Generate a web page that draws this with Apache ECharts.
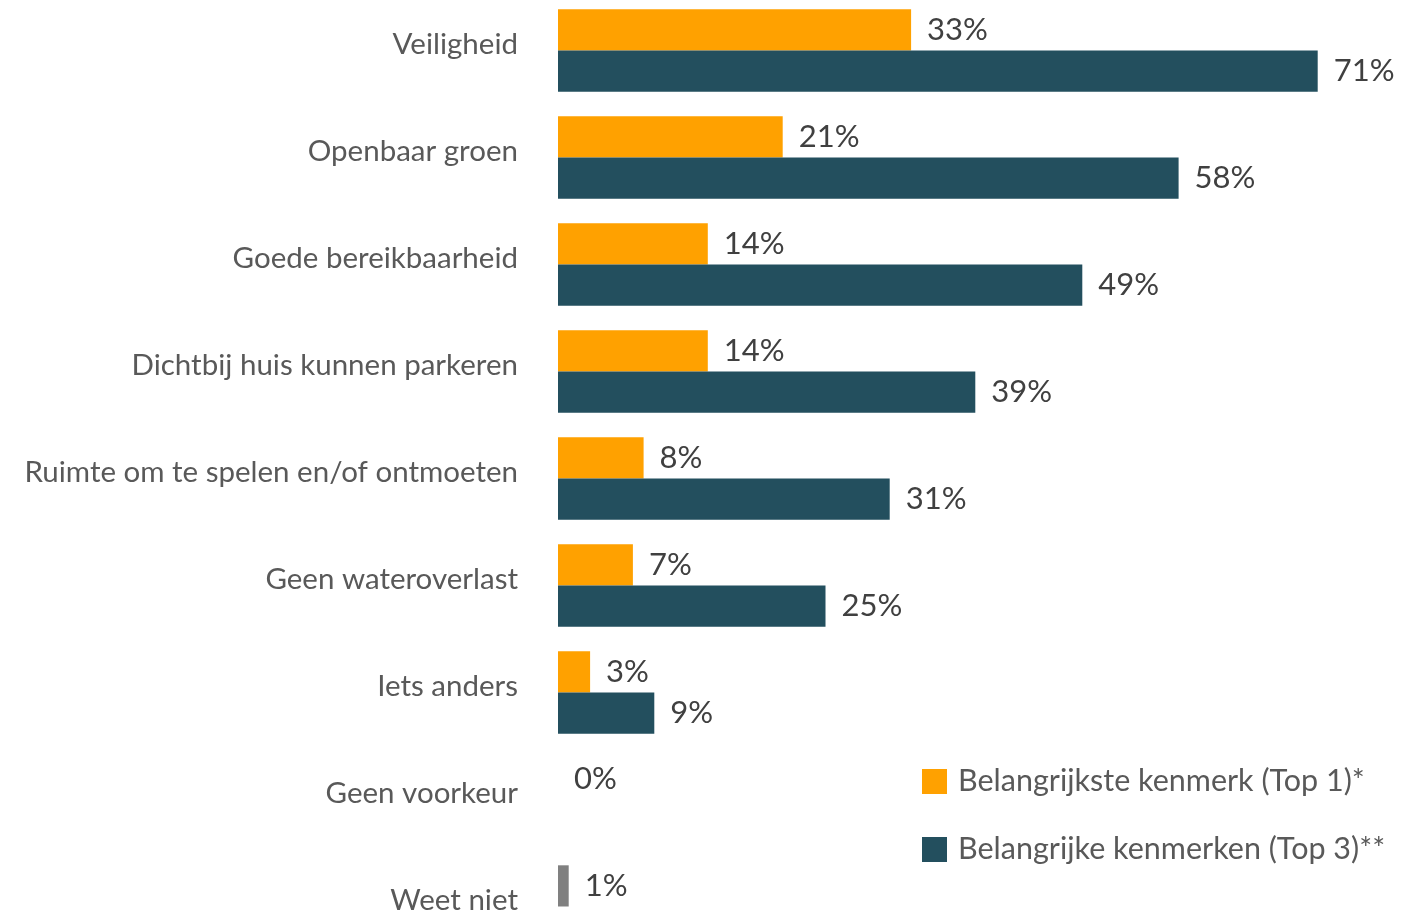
<!DOCTYPE html>
<html>
<head>
<meta charset="utf-8">
<script src="https://cdn.jsdelivr.net/npm/echarts@6/dist/echarts.min.js"></script>
<style>
  html, body { margin: 0; padding: 0; background: #fff; }
  #chart { width: 1421px; height: 915px; }
</style>
</head>
<body>
<div id="chart"></div>
<script>
// categories, top to bottom
const categories = [
  'Veiligheid',
  'Openbaar groen',
  'Goede bereikbaarheid',
  'Dichtbij huis kunnen parkeren',
  'Ruimte om te spelen en/of ontmoeten',
  'Geen wateroverlast',
  'Iets anders',
  'Geen voorkeur',
  'Weet niet'
];
const top1Values = [33, 21, 14, 14, 8, 7, 3, 0, 1];
const top3Values = [71, 58, 49, 39, 31, 25, 9, null, null];
// 'Weet niet' is drawn in grey
const greyCategory = 'Weet niet';

const FONT = 'Lato';
const ORANGE = '#FFA100';
const TEAL = '#234F5E';
const GREY = '#808080';

const chart = echarts.init(document.getElementById('chart'));

const valueLabel = {
  show: true,
  position: 'right',
  distance: 16,
  formatter: p => p.value + '%',
  fontFamily: FONT,
  fontSize: 31,
  color: '#404040'
};

chart.setOption({
  animation: false,
  grid: {
    left: 558, top: -3, width: 856, height: 963,
    containLabel: false,
    outerBoundsMode: 'none'
  },
  legend: {
    orient: 'vertical',
    left: 922,
    top: 766,
    padding: 0,
    itemWidth: 25,
    itemHeight: 25,
    itemGap: 37,
    icon: 'rect',
    textStyle: { fontFamily: FONT, fontSize: 30.5, color: '#595959', padding: [0, 0, 0, 6] },
    data: ['Belangrijkste kenmerk (Top 1)*', 'Belangrijke kenmerken (Top 3)**']
  },
  xAxis: {
    type: 'value',
    min: 0,
    max: 80,
    show: false
  },
  yAxis: {
    type: 'category',
    inverse: true,
    data: categories,
    axisLine: { show: false },
    axisTick: { show: false },
    axisLabel: {
      margin: 40,
      fontFamily: FONT,
      fontSize: 29.5,
      color: '#595959',
      verticalAlign: 'bottom',
      lineHeight: 12
    }
  },
  series: [
    {
      name: 'Belangrijkste kenmerk (Top 1)*',
      type: 'bar',
      data: top1Values.map((v, i) => categories[i] === greyCategory
        ? { value: v, itemStyle: { color: GREY } }
        : v),
      itemStyle: { color: ORANGE },
      barCategoryGap: '23%',
      barGap: '0%',
      label: valueLabel
    },
    {
      name: 'Belangrijke kenmerken (Top 3)**',
      type: 'bar',
      data: top3Values.map(v => v === null ? '-' : v),
      itemStyle: { color: TEAL },
      barCategoryGap: '23%',
      barGap: '0%',
      label: valueLabel
    }
  ]
});
</script>
</body>
</html>
